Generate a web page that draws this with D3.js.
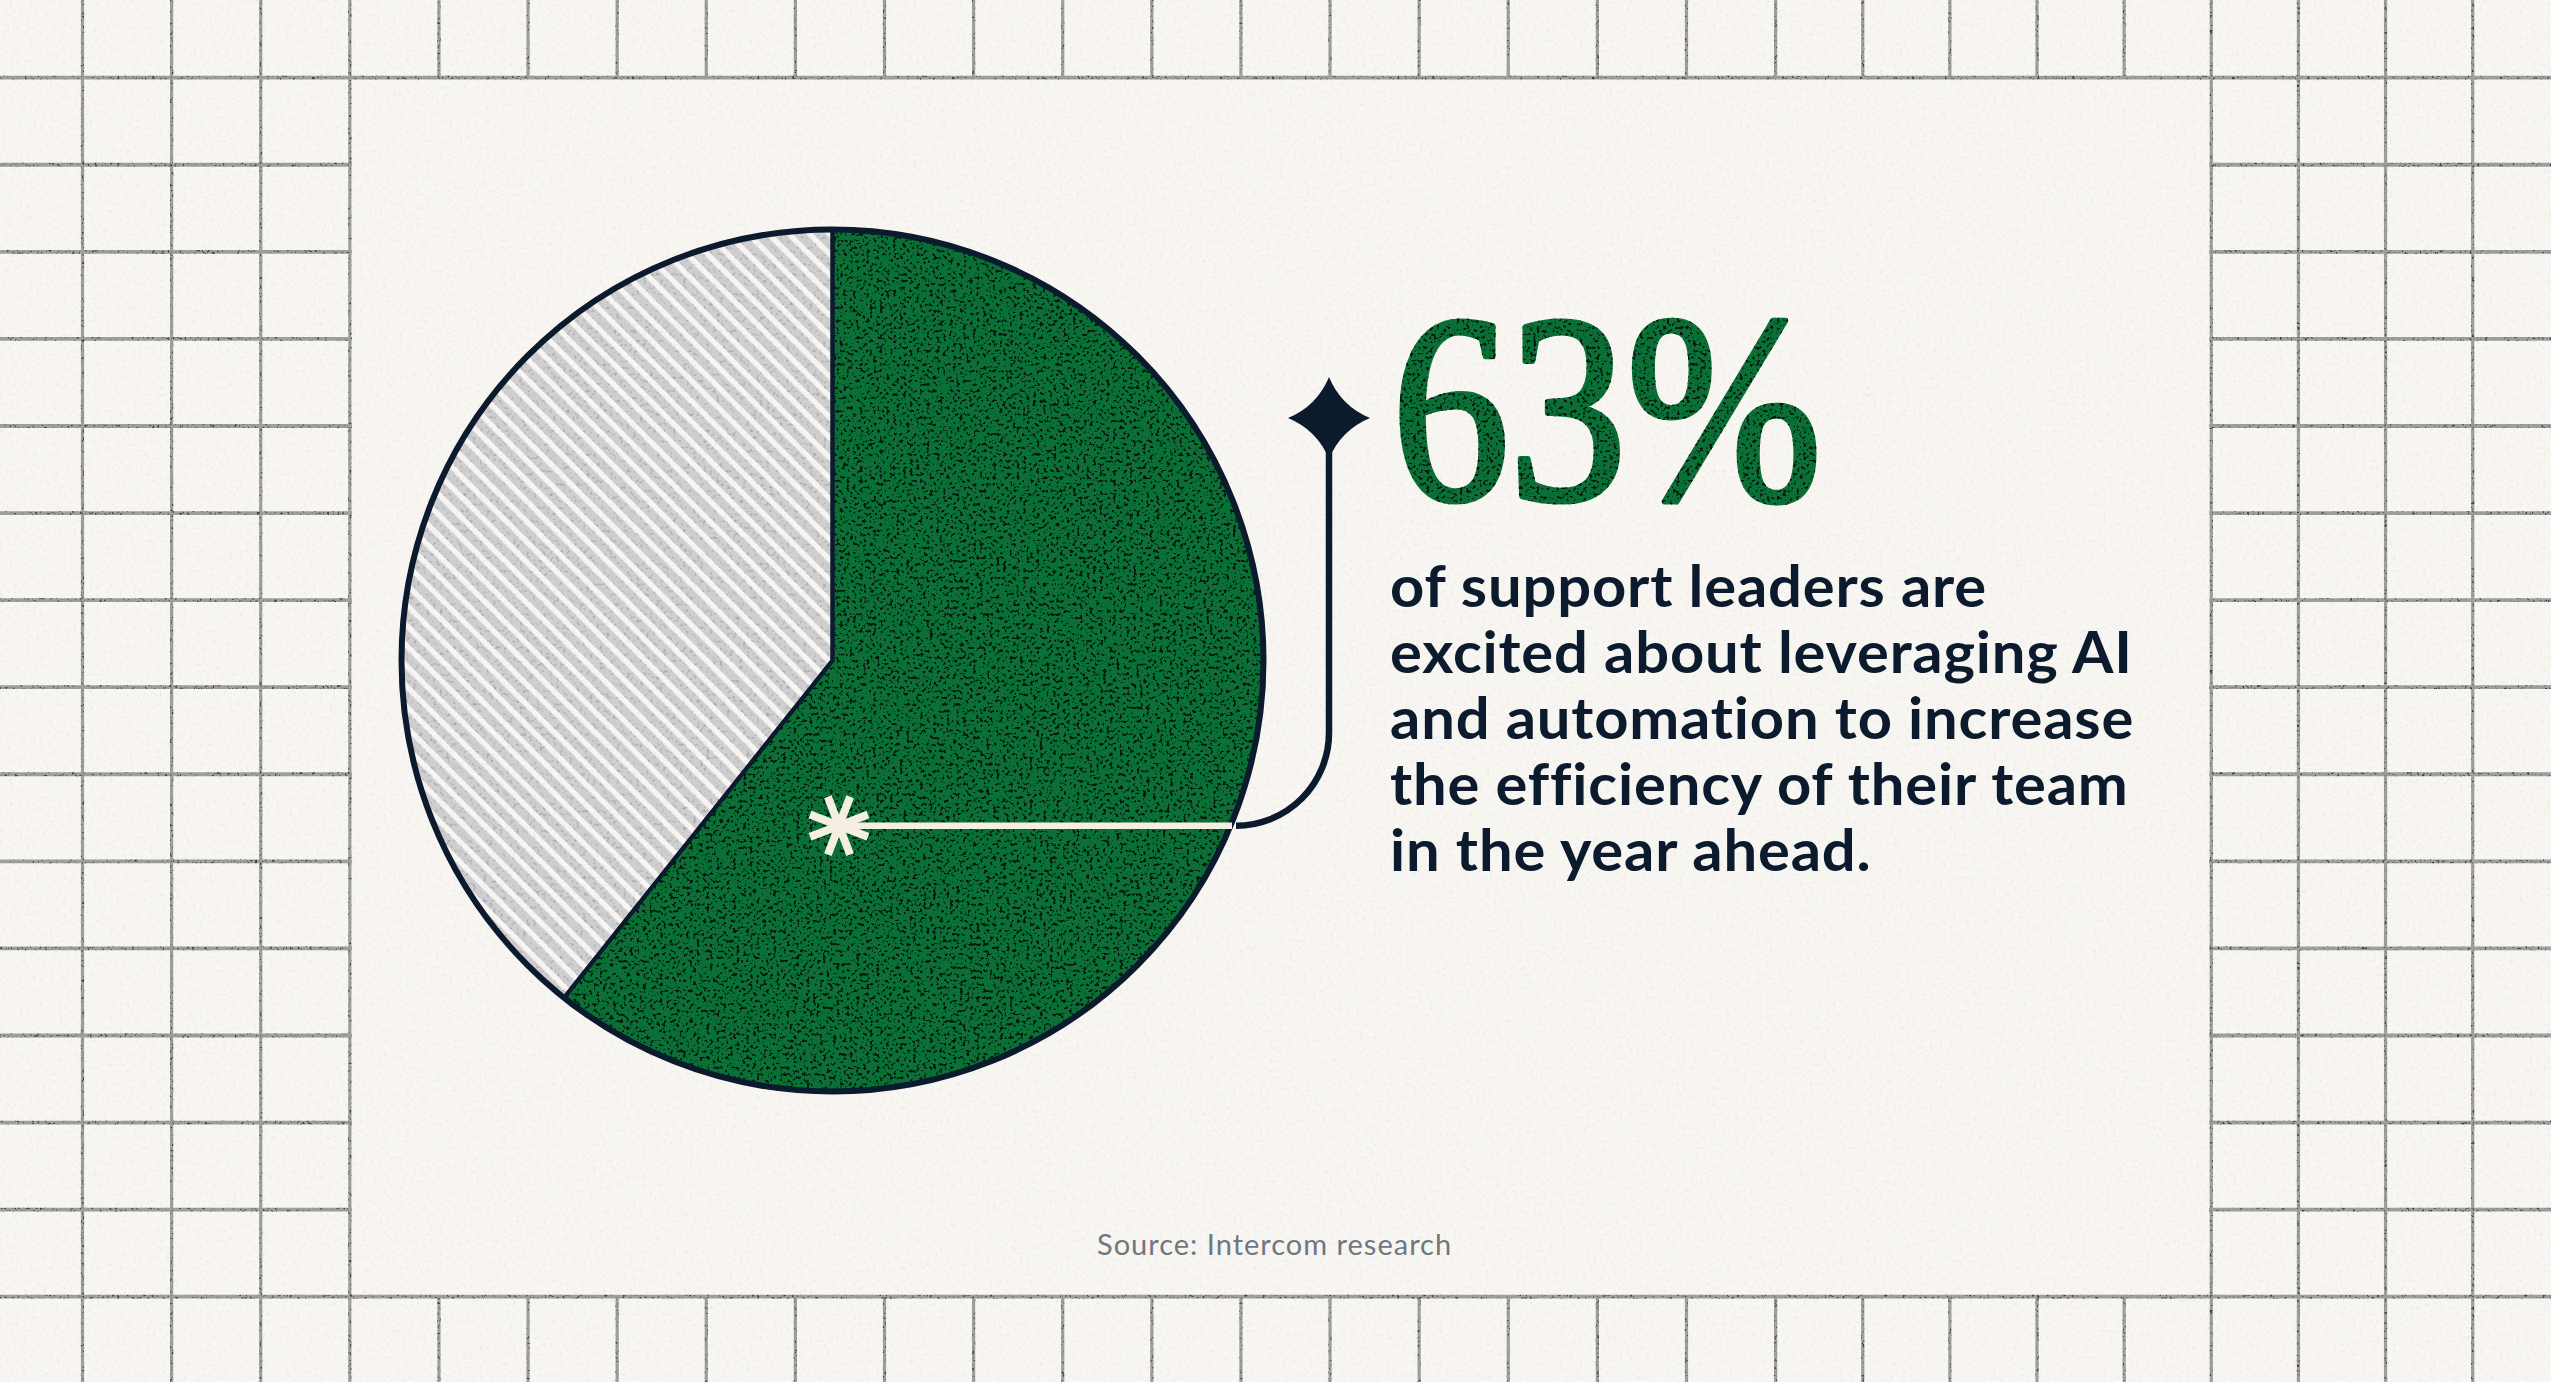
<!DOCTYPE html>
<html>
<head>
<meta charset="utf-8">
<script src="https://cdn.jsdelivr.net/npm/d3@7"></script>
<style>
    html, body { margin: 0; padding: 0; background: #f8f6f2; }
    svg { display: block; }
    text { font-family: Lato, "Noto Sans", sans-serif; }
</style>
</head>
<body>
<script>
// Values
const sliceNames = ["excited", "other"];
const sliceShares = [60.7, 39.3];   // the wedge as drawn, a bit short of the 63 in the headline
const headline = "63%";
const bodyLines = [
    "of support leaders are",
    "excited about leveraging AI",
    "and automation to increase",
    "the efficiency of their team",
    "in the year ahead."
];
const sourceNote = "Source: Intercom research";

const width = 2551, height = 1382;
const navy = "#0b1a2c", green = "#0a7036", cream = "#f5efe3";

const svg = d3.select("body").append("svg")
    .attr("width", width)
    .attr("height", height);
const defs = svg.append("defs");

// Grain: thresholded noise painted on top of whatever the filter is applied to
function addGrain(id, freq, seed, colour, gain, offset) {
    let f = defs.append("filter")
        .attr("id", id)
        .attr("filterUnits", "userSpaceOnUse")
        .attr("x", 0).attr("y", 0)
        .attr("width", width).attr("height", height)
        .attr("color-interpolation-filters", "sRGB");
    f.append("feTurbulence")
        .attr("type", "fractalNoise")
        .attr("baseFrequency", freq)
        .attr("numOctaves", 2)
        .attr("seed", seed)
        .attr("result", "noise");
    f.append("feColorMatrix")
        .attr("in", "noise")
        .attr("type", "matrix")
        .attr("values", `0 0 0 0 0  0 0 0 0 0  0 0 0 0 0  ${gain} 0 0 0 ${offset}`)
        .attr("result", "mask");
    f.append("feFlood").attr("flood-color", colour).attr("result", "ink");
    f.append("feComposite").attr("in", "ink").attr("in2", "mask").attr("operator", "in").attr("result", "specks");
    f.append("feComposite").attr("in", "specks").attr("in2", "SourceAlpha").attr("operator", "in").attr("result", "clipped");
    let m = f.append("feMerge");
    m.append("feMergeNode").attr("in", "SourceGraphic");
    m.append("feMergeNode").attr("in", "clipped");
}
addGrain("paperGrain", 0.3, 4, "#efebe3", 3, -1.6);
addGrain("lineGrain", 0.4, 7, "#404040", 7, -4.15);
addGrain("greenGrain", 0.3, 11, "#03170f", 9, -5.05);
addGrain("stripeGrain", 0.3, 5, "#a9a9ab", 4, -2.2);

// Diagonal stripes for the remaining share
let stripes = defs.append("pattern")
    .attr("id", "stripes")
    .attr("patternUnits", "userSpaceOnUse")
    .attr("width", 14.4).attr("height", 14.4)
    .attr("patternTransform", "rotate(-45)");
stripes.append("rect")
    .attr("width", 9).attr("height", 14.4)
    .attr("fill", "#cfcfd1");

// Paper
svg.append("rect")
    .attr("width", width).attr("height", height)
    .attr("fill", "#f8f6f2")
    .attr("filter", "url(#paperGrain)");

// Grid paper frame. Columns are a little wider up to index 19, then narrower.
const xGrid = d3.scaleLinear().domain([0, 19, 27]).range([82.5, 1775.6, 2472.7]);
const yGrid = d3.scaleLinear().domain([0, 14]).range([77.7, 1296.7]);
const panelLeft = xGrid(3), panelRight = xGrid(24);

let grid = svg.append("g")
    .attr("stroke", "#9e9e9e")
    .attr("filter", "url(#lineGrain)");

d3.range(0, 28).forEach(i => {
    let solid = i <= 3 || i >= 24;
    let spans = solid ? [[0, height]] : [[0, yGrid(0)], [yGrid(14), height]];
    spans.forEach(s => {
        grid.append("line")
            .attr("x1", xGrid(i)).attr("x2", xGrid(i))
            .attr("y1", s[0]).attr("y2", s[1])
            .attr("stroke-width", 3.2);
    });
});
d3.range(0, 15).forEach(i => {
    let solid = i === 0 || i === 14;
    let spans = solid ? [[0, width]] : [[0, panelLeft + 2], [panelRight - 2, width]];
    spans.forEach(s => {
        grid.append("line")
            .attr("x1", s[0]).attr("x2", s[1])
            .attr("y1", yGrid(i)).attr("y2", yGrid(i))
            .attr("stroke-width", 3.8);
    });
});

// Pie
const cx = 832.5, cy = 660.5, radius = 431;
const pie = d3.pie().sort(null).value(d => d.share);
const arc = d3.arc().innerRadius(0).outerRadius(radius);
const slices = pie(sliceNames.map((n, i) => ({ name: n, share: sliceShares[i] })));

// the filter sits on an untransformed group so its region stays on the canvas
let fills = svg.selectAll("g.slice")
    .data(slices)
    .join("g")
    .attr("class", "slice")
    .attr("filter", d => d.data.name === "excited" ? "url(#greenGrain)" : "url(#stripeGrain)");
fills.append("path")
    .attr("transform", `translate(${cx},${cy})`)
    .attr("d", arc)
    .attr("fill", d => d.data.name === "excited" ? green : "url(#stripes)");

let pieG = svg.append("g").attr("transform", `translate(${cx},${cy})`);

pieG.selectAll("path.edge")
    .data(slices)
    .join("path")
    .attr("class", "edge")
    .attr("d", arc)
    .attr("fill", "none")
    .attr("stroke", navy)
    .attr("stroke-width", 4);

pieG.append("circle")
    .attr("r", radius)
    .attr("fill", "none")
    .attr("stroke", navy)
    .attr("stroke-width", 6);

// Leader: navy outside the pie, cream inside it
const leaderY = 825.7, leaderEdgeX = 1236, leaderX = 1329, starY = 418;
let navyPath = d3.path();
navyPath.moveTo(leaderEdgeX, leaderY);
navyPath.arcTo(leaderX, leaderY, leaderX, starY, leaderX - leaderEdgeX);
navyPath.lineTo(leaderX, starY);
svg.append("path")
    .attr("d", navyPath.toString())
    .attr("fill", "none")
    .attr("stroke", navy)
    .attr("stroke-width", 6.5);

svg.append("line")
    .attr("x1", 839).attr("x2", leaderEdgeX - 4)
    .attr("y1", leaderY).attr("y2", leaderY)
    .attr("stroke", cream)
    .attr("stroke-width", 6.5);

// Eight armed asterisk where the leader starts
let asterisk = svg.append("g")
    .attr("transform", `translate(839,${leaderY})`)
    .attr("stroke", cream)
    .attr("stroke-width", 8);
[21, 69, 111, 159, 201, 249, 291, 339].forEach(deg => {
    let a = deg * Math.PI / 180;
    asterisk.append("line")
        .attr("x2", 31 * Math.sin(a))
        .attr("y2", -31 * Math.cos(a));
});

// Four pointed star at the top of the leader
const starR = 41, starC = 12;
let star = d3.path();
star.moveTo(0, -starR);
star.quadraticCurveTo(starC, -starC, starR, 0);
star.quadraticCurveTo(starC, starC, 0, starR);
star.quadraticCurveTo(-starC, starC, -starR, 0);
star.quadraticCurveTo(-starC, -starC, 0, -starR);
star.closePath();
svg.append("path")
    .attr("d", star.toString())
    .attr("transform", `translate(${leaderX},${starY})`)
    .attr("fill", navy);

// Headline
svg.append("g")
    .attr("filter", "url(#greenGrain)")
    .append("text")
    .attr("transform", "translate(1392,499) scale(0.875,1)")
    .style("font-family", "'Liberation Serif', serif")
    .attr("font-size", 268)
    .attr("fill", green)
    .attr("stroke", green)
    .attr("stroke-width", 6)
    .attr("stroke-linejoin", "round")
    .text(headline);

// Body copy
svg.append("g")
    .selectAll("text")
    .data(bodyLines)
    .join("text")
    .attr("transform", (d, i) => `translate(1390,${606.7 + i * 66.1}) scale(1.03,1)`)
    .attr("font-size", 58)
    .attr("font-weight", 700)
    .attr("letter-spacing", 0.8)
    .attr("fill", navy)
    .text(d => d);

// Source
svg.append("text")
    .attr("x", 1097)
    .attr("y", 1255)
    .attr("font-size", 29)
    .attr("letter-spacing", 1)
    .attr("fill", "#6f7780")
    .text(sourceNote);
</script>
</body>
</html>
